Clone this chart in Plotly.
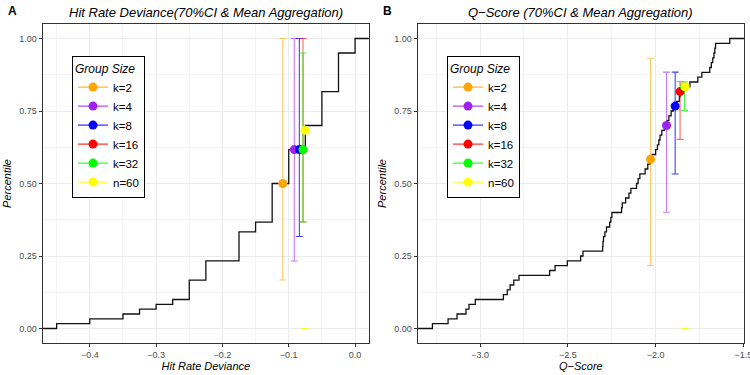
import numpy as np
import plotly.graph_objects as go

groups = ["k=2", "k=4", "k=8", "k=16", "k=32", "n=60"]
colors = ["#FFA500", "#A020F0", "#0000FF", "#FF0000", "#00FF00", "#FFFF00"]
err_colors = ["rgba(255,165,0,0.6)", "rgba(160,32,240,0.6)", "rgba(0,0,255,0.75)",
              "rgba(255,0,0,0.6)", "rgba(0,255,0,0.75)", "rgba(255,255,0,0.9)"]

# Panel A: Hit Rate Deviance
hrd_values = [-0.45, -0.40, -0.35, -0.325, -0.30, -0.275, -0.25, -0.225, -0.175,
              -0.15, -0.125, -0.10, -0.075, -0.05, -0.025, 0.0]
hrd_counts = [1, 1, 1, 1, 1, 1, 4, 4, 6, 2, 8, 7, 5, 7, 8, 3]
hrd_pt_x = [-0.109, -0.0916, -0.084, -0.0785, -0.0785, -0.0755]
hrd_pt_y = [0.500, 0.617, 0.617, 0.617, 0.617, 0.684]
hrd_lo = [0.167, 0.233, 0.317, 0.367, 0.367, 0.0]
hrd_hi = [1.000, 1.000, 1.000, 1.000, 0.950, 0.0]
hrd_ticks = [-0.4, -0.3, -0.2, -0.1, 0.0]
hrd_range = [-0.471, 0.021]

# Panel B: Q-Score
qs_values = [-3.271, -3.182, -3.131, -3.080, -3.063, -3.027, -2.867, -2.845, -2.829, -2.808,
             -2.778, -2.604, -2.573, -2.503, -2.427, -2.414, -2.302, -2.300, -2.297, -2.289,
             -2.280, -2.262, -2.255, -2.249, -2.194, -2.190, -2.171, -2.152, -2.141, -2.109,
             -2.100, -2.090, -2.060, -2.045, -2.030, -2.020, -2.000, -1.990, -1.982, -1.975,
             -1.965, -1.950, -1.935, -1.925, -1.912, -1.900, -1.880, -1.865, -1.861, -1.845,
             -1.805, -1.760, -1.737, -1.692, -1.683, -1.675, -1.668, -1.663, -1.659, -1.578]
qs_pt_x = [-2.029, -1.938, -1.889, -1.861, -1.836, -1.832]
qs_pt_y = [0.584, 0.700, 0.767, 0.817, 0.834, 0.834]
qs_lo = [0.217, 0.401, 0.533, 0.652, 0.752, 0.0]
qs_hi = [0.932, 0.884, 0.884, 0.851, 0.851, 0.0]
qs_ticks = [-3.0, -2.5, -2.0, -1.5]
qs_range = [-3.355, -1.497]

y_ticks = [0.0, 0.25, 0.50, 0.75, 1.00]
y_range = [-0.05, 1.05]

FONT = "Liberation Sans, Arial, Helvetica, sans-serif"


def ecdf_xy(values, xr):
    v = np.sort(np.asarray(values, dtype=float))
    ux, cnt = np.unique(v, return_counts=True)
    cy = np.cumsum(cnt) / len(v)
    xs = [xr[0]] + list(ux) + [xr[1]]
    ys = [0.0] + list(cy) + [1.0]
    return xs, ys


fig = go.Figure()

panels = [
    dict(vals=np.repeat(hrd_values, hrd_counts), xr=hrd_range, px=hrd_pt_x, py=hrd_pt_y,
         lo=hrd_lo, hi=hrd_hi, xa="x", ya="y", leg="legend"),
    dict(vals=qs_values, xr=qs_range, px=qs_pt_x, py=qs_pt_y,
         lo=qs_lo, hi=qs_hi, xa="x2", ya="y2", leg="legend2"),
]

for p in panels:
    ex, ey = ecdf_xy(p["vals"], p["xr"])
    fig.add_trace(go.Scatter(x=ex, y=ey, mode="lines", line=dict(color="#111111", width=1.3, shape="hv"),
                             xaxis=p["xa"], yaxis=p["ya"], showlegend=False, hoverinfo="skip"))
    for i, g in enumerate(groups):
        fig.add_trace(go.Scatter(
            x=[p["px"][i]], y=[p["lo"][i]], mode="markers",
            marker=dict(size=1, color="rgba(0,0,0,0)"),
            error_y=dict(type="data", symmetric=False, array=[p["hi"][i] - p["lo"][i]], arrayminus=[0],
                         color=err_colors[i], thickness=1.1, width=3.5),
            xaxis=p["xa"], yaxis=p["ya"], showlegend=False, hoverinfo="skip"))
    for i, g in enumerate(groups):
        fig.add_trace(go.Scatter(
            x=[p["px"][i]], y=[p["py"][i]], mode="lines+markers", name=g,
            marker=dict(size=9, color=colors[i]), line=dict(color=colors[i], width=1),
            xaxis=p["xa"], yaxis=p["ya"], legend=p["leg"], showlegend=True))

axis_common = dict(
    showline=True, linecolor="#333333", linewidth=1, mirror=True, automargin=False,
    ticks="outside", ticklen=3, tickcolor="#333333", tickwidth=1,
    tickfont=dict(family=FONT, size=9, color="#4D4D4D"), ticklabeloverflow="allow",
    showgrid=True, gridcolor="#EBEBEB", gridwidth=1, zeroline=False,
)

legend_common = dict(
    xanchor="left", yanchor="top", bgcolor="white", bordercolor="black", borderwidth=1,
    font=dict(size=11.5, family=FONT), tracegroupgap=0,
    title=dict(text="<i>Group Size</i>", font=dict(size=12, family=FONT)),
)

fig.update_layout(
    width=750, height=375, margin=dict(l=0, r=0, t=0, b=0, autoexpand=False),
    paper_bgcolor="white", plot_bgcolor="white",
    font=dict(family=FONT, color="black"),
    xaxis=dict(axis_common, domain=[42.7 / 750, 369 / 750], range=hrd_range, tickvals=hrd_ticks,
               tickformat=".1f", anchor="y",
               minor=dict(dtick=0.05, tick0=0, showgrid=True, gridcolor="#F4F4F4", gridwidth=0.7),
               title=dict(text="<i>Hit Rate Deviance</i>", font=dict(size=11), standoff=3)),
    yaxis=dict(axis_common, domain=[1 - 343 / 375, 1 - 24 / 375], range=y_range, tickvals=y_ticks,
               tickformat=".2f", anchor="x",
               minor=dict(dtick=0.125, tick0=0, showgrid=True, gridcolor="#F4F4F4", gridwidth=0.7),
               title=dict(text="<i>Percentile</i>", font=dict(size=11), standoff=5)),
    xaxis2=dict(axis_common, domain=[417.7 / 750, 744 / 750], range=qs_range, tickvals=qs_ticks,
                tickformat=".1f", anchor="y2",
                minor=dict(dtick=0.25, tick0=0, showgrid=True, gridcolor="#F4F4F4", gridwidth=0.7),
                title=dict(text="<i>Q\u2212Score</i>", font=dict(size=11), standoff=3)),
    yaxis2=dict(axis_common, domain=[1 - 343 / 375, 1 - 24 / 375], range=y_range, tickvals=y_ticks,
                tickformat=".2f", anchor="x2",
                minor=dict(dtick=0.125, tick0=0, showgrid=True, gridcolor="#F4F4F4", gridwidth=0.7),
                title=dict(text="<i>Percentile</i>", font=dict(size=11), standoff=5)),
    legend=dict(legend_common, x=72 / 750, y=1 - 56 / 375),
    legend2=dict(legend_common, x=447 / 750, y=1 - 56 / 375),
    annotations=[
        dict(text="<i>Hit Rate Deviance(70%CI & Mean Aggregation)</i>", xref="paper", yref="paper",
             x=(42.7 + 369) / 2 / 750, y=1 - 12.7 / 375, xanchor="center", yanchor="middle",
             showarrow=False, font=dict(size=13, family=FONT)),
        dict(text="<i>Q\u2212Score (70%CI & Mean Aggregation)</i>", xref="paper", yref="paper",
             x=(417.7 + 744) / 2 / 750, y=1 - 12.7 / 375, xanchor="center", yanchor="middle",
             showarrow=False, font=dict(size=13, family=FONT)),
        dict(text="<b>A</b>", xref="paper", yref="paper", x=6 / 750, y=1 - 11.5 / 375,
             xanchor="left", yanchor="middle", showarrow=False, font=dict(size=12, family=FONT)),
        dict(text="<b>B</b>", xref="paper", yref="paper", x=381 / 750, y=1 - 11.5 / 375,
             xanchor="left", yanchor="middle", showarrow=False, font=dict(size=12, family=FONT)),
    ],
)

fig.write_html(
    "out.html", config={"displayModeBar": False},
    post_script=("document.documentElement.style.overflow='hidden';"
                 "document.body.style.overflow='hidden';"
                 "document.body.style.margin='0';document.body.style.padding='0';"))
